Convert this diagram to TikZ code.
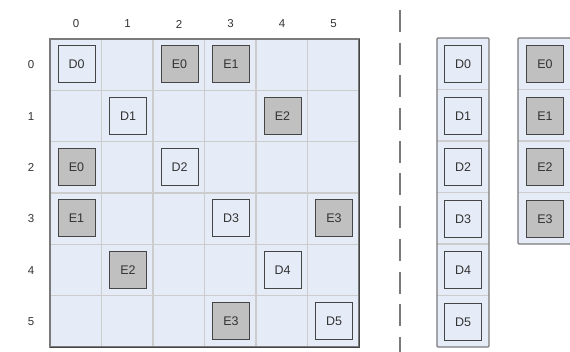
\documentclass[tikz,border=0pt]{standalone}
\usepackage{fontspec}
\setmainfont{Liberation Sans}
\definecolor{cellbg}{HTML}{E6ECF7}
\definecolor{gridln}{HTML}{CCCCCC}
\definecolor{edge}{HTML}{7A7A7A}
\definecolor{boxedge}{HTML}{454545}
\definecolor{efill}{HTML}{C0C0C0}
\definecolor{txt}{HTML}{333333}
\begin{document}
\begin{tikzpicture}[x=1pt,y=-1pt,
  lbl/.style={text=txt,font=\fontsize{11.5}{13}\selectfont,inner sep=0pt},
  dbox/.style={draw=boxedge,line width=1pt,fill=cellbg,minimum width=37pt,minimum height=37pt,inner sep=0pt,text=txt,font=\fontsize{12.5}{14}\selectfont},
  ebox/.style={dbox,fill=efill},
  gline/.style={draw=gridln,line width=1.2pt},
  frame/.style={draw=edge,line width=1.3pt}]
\useasboundingbox (0,0) rectangle (570,352);
% main grid
\fill[cellbg] (50,39) rectangle (359,347);
\foreach \i in {1,...,5}{
  \draw[gline] ({50+51.5*\i},39) -- ({50+51.5*\i},347);
  \draw[gline] (50,{39+51.33*\i}) -- (359,{39+51.33*\i});
}
\draw[frame] (50,39) rectangle (359,347);
\draw[boxedge,line width=0.8pt] (359.5,39) -- (359.5,347.5) -- (50,347.5);
% labels
\foreach \i in {0,...,5}{
  \node[lbl] (c\i) at ({76+51.5*\i},24) {\i};
  \node[lbl] (r\i) at (31,{65+51.33*\i}) {\i};
}
% cell boxes
\node[dbox] (g00) at (76.5,64.5) {D0};
\node[ebox] (g02) at (179.5,64.5) {E0};
\node[ebox] (g03) at (231,64.5) {E1};
\node[dbox] (g11) at (128,116) {D1};
\node[ebox] (g14) at (282.5,116) {E2};
\node[ebox] (g20) at (76.5,167.5) {E0};
\node[dbox] (g22) at (179.5,167.5) {D2};
\node[ebox] (g30) at (76.5,218.5) {E1};
\node[dbox] (g33) at (231,218.5) {D3};
\node[ebox] (g35) at (334,218.5) {E3};
\node[ebox] (g41) at (128,270) {E2};
\node[dbox] (g44) at (282.5,270) {D4};
\node[ebox] (g53) at (231,321.5) {E3};
\node[dbox] (g55) at (334,321.5) {D5};
% dashed separator
\coordinate (st) at (400,10);
\coordinate (sb) at (400,352);
\draw[edge,line width=1.4pt,dash pattern=on 22pt off 10.7pt] (st) -- (sb);
% D column
\fill[cellbg] (437,38) rectangle (489,347);
\foreach \i in {1,...,5}{
  \draw[gline] (437,{38+51.5*\i}) -- (489,{38+51.5*\i});
}
\draw[frame,rounded corners=1pt] (437,38) rectangle (489,347);
\foreach \i in {0,...,5}{
  \node[dbox] (d\i) at (463,{64.5+51.5*\i}) {D\i};
}
% E column
\fill[cellbg] (518,38) rectangle (571,244);
\foreach \i in {1,...,3}{
  \draw[gline] (518,{38+51.5*\i}) -- (571,{38+51.5*\i});
}
\draw[frame,rounded corners=1pt] (518,38) rectangle (571,244);
\foreach \i in {0,...,3}{
  \node[ebox] (e\i) at (545,{64.5+51.5*\i}) {E\i};
}
\end{tikzpicture}
\end{document}
